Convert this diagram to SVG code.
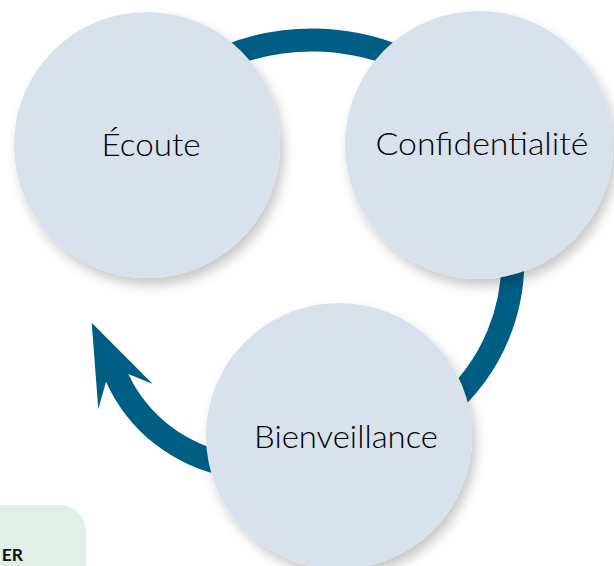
<svg xmlns="http://www.w3.org/2000/svg" width="614" height="566" viewBox="0 0 614 566">
<defs>
<filter id="sh" x="-20%" y="-20%" width="150%" height="150%">
<feDropShadow dx="4" dy="7" stdDeviation="6" flood-color="#000" flood-opacity="0.22"/>
</filter>
<style>
.node{fill:#d9e1ec;filter:url(#sh)}
.lbl{font-family:Lato,"Open Sans","Liberation Sans",sans-serif;font-weight:300;font-size:32px;fill:#000;text-anchor:middle}
.arc{fill:none;stroke:#005e85;stroke-width:23}
</style>
</defs>
<rect x="-40" y="505" width="126" height="100" rx="26" fill="#e1f0e7"/>
<text x="23" y="561" font-family="Lato,'Liberation Sans',sans-serif" font-weight="700" font-size="17.5" fill="#111" text-anchor="end">ER</text>
<g id="connectors">
<path class="arc" d="M 225 57.3 A 228 228 0 0 1 400 57.6"/>
<path class="arc" d="M 512 244.8 A 192 192 0 0 1 444.1 408.6"/>
<path fill="#005e85" d="M 91.7 322.7 L 152.7 384 L 128.3 374 A 141 141 0 0 0 231.5 452.9 L 227.3 476.5 A 165 165 0 0 1 106 381.7 L 98.3 409.3 Z"/>
</g>
<g id="node-ecoute">
<circle class="node" cx="147" cy="145" r="133"/>
<text class="lbl" x="151" y="156" textLength="99" lengthAdjust="spacingAndGlyphs">Écoute</text>
</g>
<g id="node-confidentialite">
<circle class="node" cx="479" cy="145" r="134"/>
<text class="lbl" x="482" y="155" textLength="213" lengthAdjust="spacingAndGlyphs">Confidentialité</text>
</g>
<g id="node-bienveillance">
<circle class="node" cx="339" cy="436" r="133"/>
<text class="lbl" x="346" y="448" textLength="184" lengthAdjust="spacingAndGlyphs">Bienveillance</text>
</g>
</svg>
